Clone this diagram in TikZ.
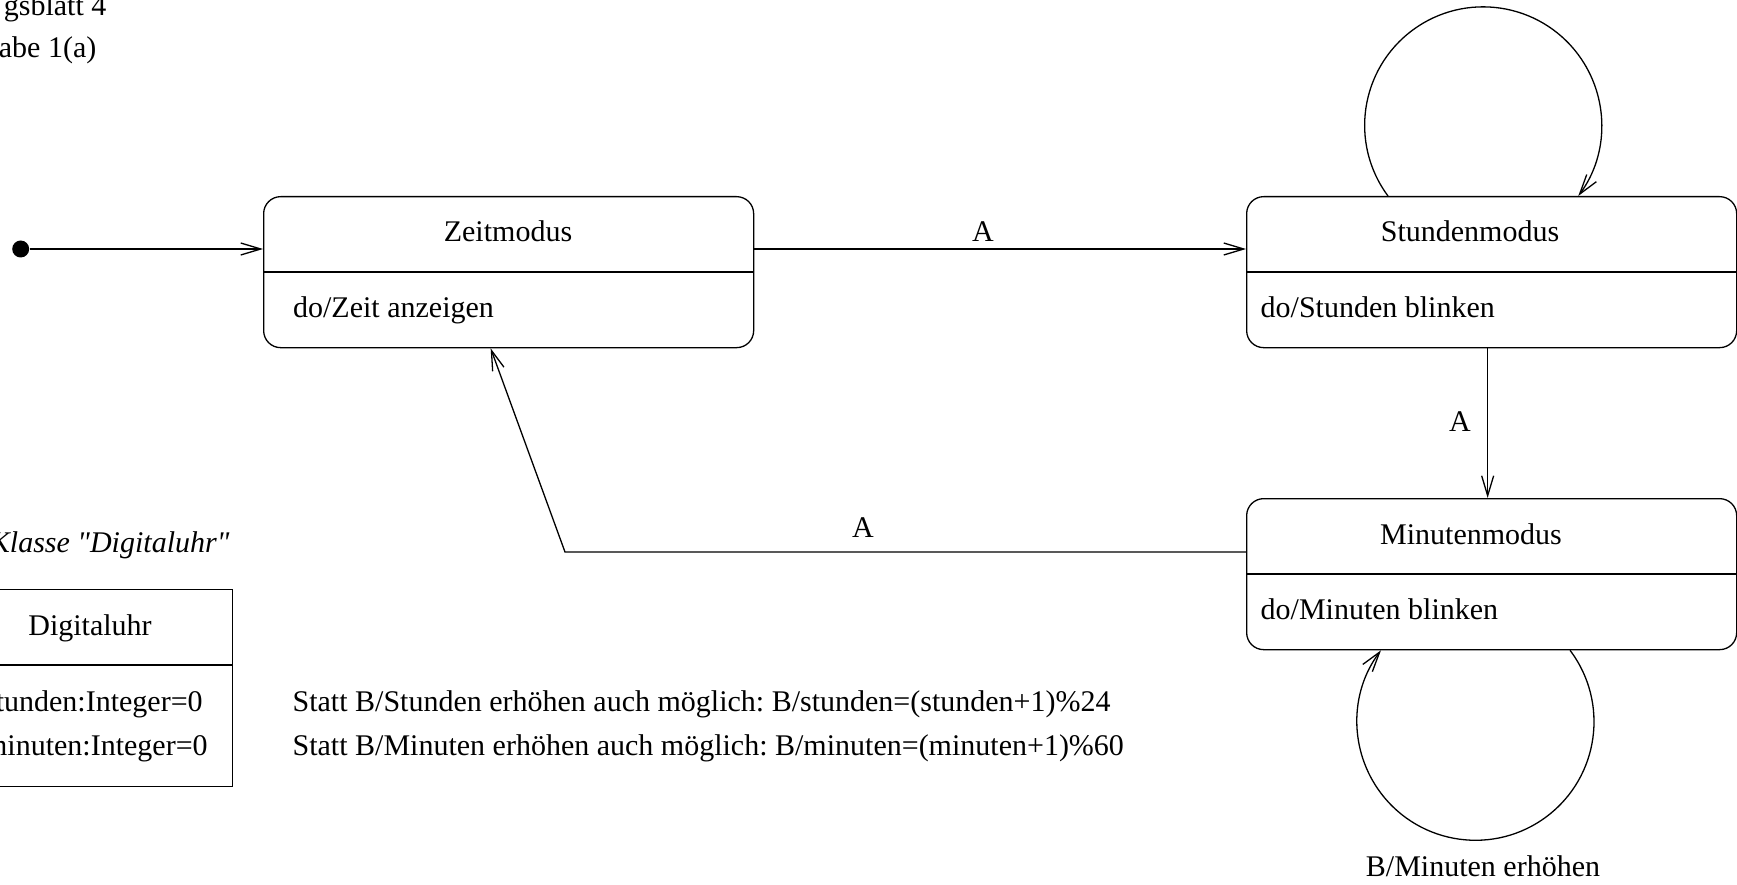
\documentclass[tikz,border=0pt]{standalone}
\usepackage{fontspec}
\setmainfont{Liberation Serif}
\usetikzlibrary{arrows.meta,calc}
\frenchspacing
\begin{document}
\begin{tikzpicture}[x=1pt,y=1pt,yscale=-1,line width=1.3pt,
  every node/.style={font=\fontsize{30}{36}\selectfont, inner sep=0pt},
  state/.style={draw, rounded corners=17pt, minimum width=490pt, minimum height=151pt, anchor=north west},
  classbox/.style={draw, minimum width=284pt, minimum height=197pt, anchor=north west},
  arr/.style={-{Straight Barb[length=20pt,width=12pt]}},
  initdot/.style={circle, fill=black, minimum size=17pt, inner sep=0pt}]
\useasboundingbox (0,0) rectangle (1737,885);

% header (cut off at the left edge)
\node[anchor=base east] (h1) at (107,16) {gsblatt 4};
\node[anchor=base east] (h2) at (97,58) {abe 1(a)};

% states
\node[state] (zeit) at (263,196) {};
\node[state] (stunden) at (1246,196) {};
\node[state] (minuten) at (1246,498) {};
\draw (zeit.north west) ++(0,76) -- ++(490,0);
\draw (stunden.north west) ++(0,76) -- ++(490,0);
\draw (minuten.north west) ++(0,76) -- ++(490,0);

\node[anchor=base] (zeitname) at (508,242) {Zeitmodus};
\node[anchor=base west] (zeitdo) at (292.5,317) {do/Zeit anzeigen};
\node[anchor=base] (stdname) at (1470,242) {Stundenmodus};
\node[anchor=base west] (stddo) at (1260,317) {do/Stunden blinken};
\node[anchor=base] (minname) at (1471,544) {Minutenmodus};
\node[anchor=base west] (mindo) at (1260,619) {do/Minuten blinken};

% initial state
\node[initdot] (init) at (20.7,249) {};

% transitions
\coordinate (zin) at ($(zeit.north west)+(0,53)$);
\draw[arr] (init) -- (zin);

\coordinate (zout) at ($(zeit.north east)+(0,53)$);
\coordinate (sin) at ($(stunden.north west)+(0,53)$);
\draw[arr] (zout) -- (sin);
\node[anchor=base] (la1) at (983,242) {A};

\coordinate (sout) at ($(stunden.south)+(-4,0)$);
\coordinate (min) at ($(minuten.north)+(-4,0)$);
\draw[arr] (sout) -- (min);
\node[anchor=base] (la2) at (1460,431) {A};

\coordinate (mout) at ($(minuten.north west)+(0,54)$);
\coordinate (bend) at (565,552);
\coordinate (zback) at ($(zeit.south)+(-18,0)$);
\draw[arr] (mout) -- (bend) -- (zback);
\node[anchor=base] (la3) at (863,537) {A};

% self loops
\coordinate (sl) at ($(stunden.north west)+(142,0)$);
\draw[arr] (sl) arc[start angle=143.4, end angle=396.6, radius=118.5];

\coordinate (ml) at ($(minuten.south west)+(324,0)$);
\draw[arr] (ml) arc[start angle=-37.1, end angle=217.1, radius=118.5];
\node[anchor=base] (lmin) at (1483,876) {B/Minuten erhöhen};

% class
\node[anchor=base east, font=\fontsize{30}{36}\selectfont\itshape\addfontfeatures{Ligatures=TeXOff}] (kl) at (230,552) {Klasse "Digitaluhr"};
\node[classbox] (cls) at (-52,589) {};
\draw (cls.north west) ++(0,76) -- ++(284,0);
\node[anchor=base] (clsname) at (90,635) {Digitaluhr};
\node[anchor=base west] (att1) at (-16.5,711) {stunden:Integer=0};
\node[anchor=base west] (att2) at (-16.5,755) {minuten:Integer=0};

% notes
\node[anchor=base west] (n1) at (292,711) {Statt B/Stunden erhöhen auch möglich: B/stunden=(stunden+1)\%24};
\node[anchor=base west] (n2) at (292,755) {Statt B/Minuten erhöhen auch möglich: B/minuten=(minuten+1)\%60};
\end{tikzpicture}
\end{document}
